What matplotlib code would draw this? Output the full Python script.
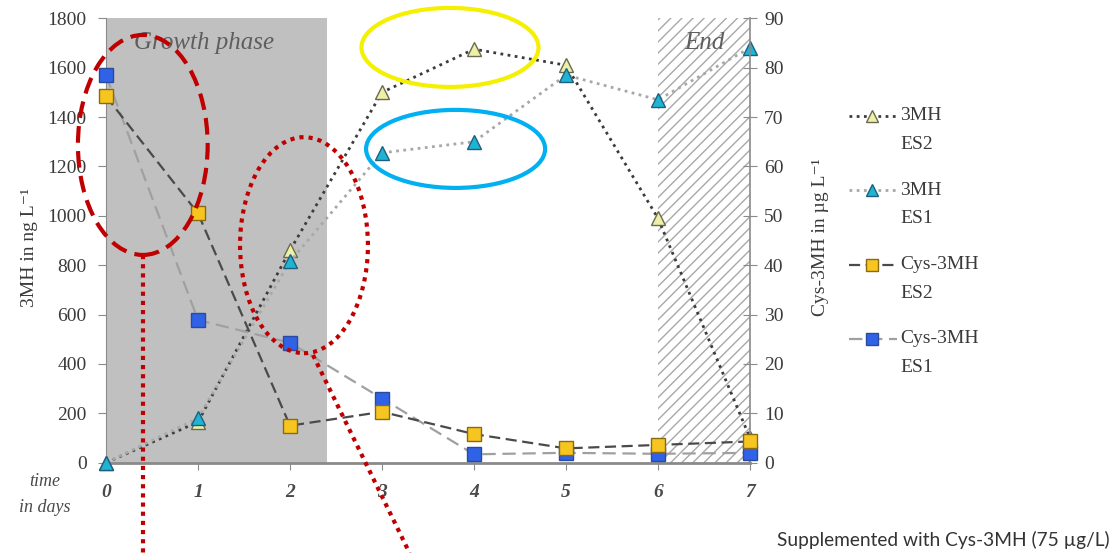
import matplotlib
matplotlib.use('Agg')
import matplotlib.pyplot as plt
from matplotlib.patches import Ellipse
from matplotlib.lines import Line2D

#Datos: dias de fermentacion
dias = [0, 1, 2, 3, 4, 5, 6, 7]
#3MH en ng/L (eje izquierdo)
mh_es2 = [0, 165, 860, 1500, 1675, 1610, 990, 100]
mh_es1 = [0, 180, 815, 1255, 1300, 1570, 1470, 1680]
#Cys-3MH en ug/L (eje derecho)
cys_es2 = [74.2, 50.5, 7.5, 10.3, 5.8, 2.9, 3.6, 4.3]
cys_es1 = [78.5, 28.9, 24.3, 13.0, 1.7, 2.0, 1.8, 2.0]

etiquetas = ['3MH\nES2', '3MH\nES1', 'Cys-3MH\nES2', 'Cys-3MH\nES1']
fase_crec = (0, 2.4)
fase_fin = (6, 7)

plt.rcParams['font.family'] = ['Liberation Serif', 'DejaVu Serif']
plt.rcParams['hatch.linewidth'] = 1.0
gris_txt = '#3a3a3a'
gris_eje = '#8a8a8a'

fig = plt.figure(figsize=(11.18, 5.53), dpi=100)
ax = fig.add_axes([106/1118, 90.3/553, 644/1118, 444.4/553])
ax2 = ax.twinx()

#Fases
ax.axvspan(*fase_crec, facecolor='#c0c0c0', edgecolor='none', zorder=0)
ax.axvspan(*fase_fin, facecolor='white', edgecolor='#a8a8a8', hatch='///', linewidth=0, zorder=0)
ax.text(1.065, 1700, 'Growth phase', fontsize=18, style='italic', color='#5e5e5e', ha='center', va='center')
ax.text(6.51, 1700, 'End', fontsize=18, style='italic', color='#5e5e5e', ha='center', va='center')

#Estilos de las series
estilos = [
    dict(color='#3c3c3c', linestyle=(0, (1, 1.6)), lw=2, marker='^', markersize=10,
         markerfacecolor='#eef0a8', markeredgecolor='#6a6a50'),
    dict(color='#a8a8a8', linestyle=(0, (1, 1.6)), lw=2, marker='^', markersize=10,
         markerfacecolor='#1fb4d2', markeredgecolor='#1d5f80'),
    dict(color='#4a4a4a', linestyle=(0, (5, 2.5)), lw=1.6, marker='s', markersize=10,
         markerfacecolor='#f7c520', markeredgecolor='#8a6a10'),
    dict(color='#a0a0a0', linestyle=(0, (6, 3)), lw=1.6, marker='s', markersize=10,
         markerfacecolor='#2f62e6', markeredgecolor='#2a4aa0'),
]

ax.plot(dias, mh_es2, clip_on=False, zorder=3, **estilos[0])
ax.plot(dias, mh_es1, clip_on=False, zorder=4, **estilos[1])
ax2.plot(dias, cys_es1, clip_on=False, zorder=3, **estilos[3])
ax2.plot(dias, cys_es2, clip_on=False, zorder=4, **estilos[2])

#Ejes
ax.set_xlim(0, 7)
ax.set_ylim(0, 1800)
ax2.set_ylim(0, 90)
ax.set_yticks(range(0, 1801, 200))
ax2.set_yticks(range(0, 91, 10))
ax.set_xticks(dias)
ax.set_xticklabels([str(d) for d in dias], fontsize=14, style='italic', fontweight='bold', color='#4a4a4a')
ax.tick_params(axis='x', direction='out', length=5, pad=10, color=gris_eje)
ax.tick_params(axis='y', direction='out', length=6, pad=8, labelsize=14, labelcolor=gris_txt, color=gris_eje)
ax2.tick_params(axis='y', direction='inout', length=10, pad=5, labelsize=14, labelcolor=gris_txt, color=gris_eje)

for s in ['top', 'right']:
    ax.spines[s].set_visible(False)
for s in ['top', 'left', 'bottom']:
    ax2.spines[s].set_visible(False)
ax.spines['left'].set_color(gris_eje)
ax.spines['bottom'].set_color(gris_eje)
ax.spines['bottom'].set_linewidth(2)
ax2.spines['right'].set_color(gris_eje)
ax2.spines['right'].set_linewidth(1.2)

ax.set_ylabel('3MH in ng L⁻¹', fontsize=14, color=gris_txt)
ax.yaxis.set_label_coords(-0.1056, 0.485)
ax2.set_ylabel('Cys-3MH in µg L⁻¹', fontsize=14, color=gris_txt)
ax2.yaxis.set_label_coords(1.096, 0.507)

fig.text(45/1118, 1 - 481/553, 'time', fontsize=13, style='italic', color='#4a4a4a', ha='center', va='center')
fig.text(45/1118, 1 - 507/553, 'in days', fontsize=13, style='italic', color='#4a4a4a', ha='center', va='center')

#Leyenda a mano (etiquetas de dos lineas)
for i, (lab, est) in enumerate(zip(etiquetas, estilos)):
    y = 1 - (116 + 74.3*i)/553
    fig.add_artist(Line2D([849/1118, 897/1118], [y, y], transform=fig.transFigure,
                          color=est['color'], linestyle=est['linestyle'], lw=est['lw']))
    fig.add_artist(Line2D([872/1118], [y], transform=fig.transFigure, linestyle='none',
                          marker=est['marker'], markersize=9, markerfacecolor=est['markerfacecolor'],
                          markeredgecolor=est['markeredgecolor']))
    l1, l2 = lab.split('\n')
    fig.text(900/1118, y, l1, fontsize=14, color=gris_txt, va='center')
    fig.text(900/1118, y - 28.5/553, l2, fontsize=14, color=gris_txt, va='center')

fig.text(1110/1118, 1 - 540/553, 'Supplemented with Cys-3MH (75 µg/L)', fontsize=13.8,
         family=['Lato', 'DejaVu Sans'], color='#333333', ha='right', va='center')

#Marcas de resaltado
rojo = '#c00000'
marcas = [
    Ellipse((0.40, 1287), 1.41, 891, fill=False, edgecolor=rojo, lw=3, linestyle=(0, (4, 2))),
    Ellipse((2.152, 881), 1.39, 875, fill=False, edgecolor=rojo, lw=3, linestyle=(0, (1, 1.2))),
    Ellipse((3.739, 1682), 1.924, 320, fill=False, edgecolor='#f5f000', lw=3),
    Ellipse((3.80, 1271), 1.946, 316, fill=False, edgecolor='#00b0f0', lw=3),
]
for e in marcas:
    e.set_transform(ax.transData)
    e.set_clip_on(False)
    e.set_zorder(10)
    ax2.add_patch(e)

ax2.add_line(Line2D([0.405, 0.405], [841, -366], transform=ax.transData, color=rojo, lw=3,
                    linestyle=(0, (1, 1.2)), clip_on=False, zorder=10))
ax2.add_line(Line2D([2.25, 3.30], [436, -366], transform=ax.transData, color=rojo, lw=3,
                    linestyle=(0, (1, 1.2)), clip_on=False, zorder=10))
ax2.set_ylim(0, 90)

fig.savefig('out.png', dpi=100)
